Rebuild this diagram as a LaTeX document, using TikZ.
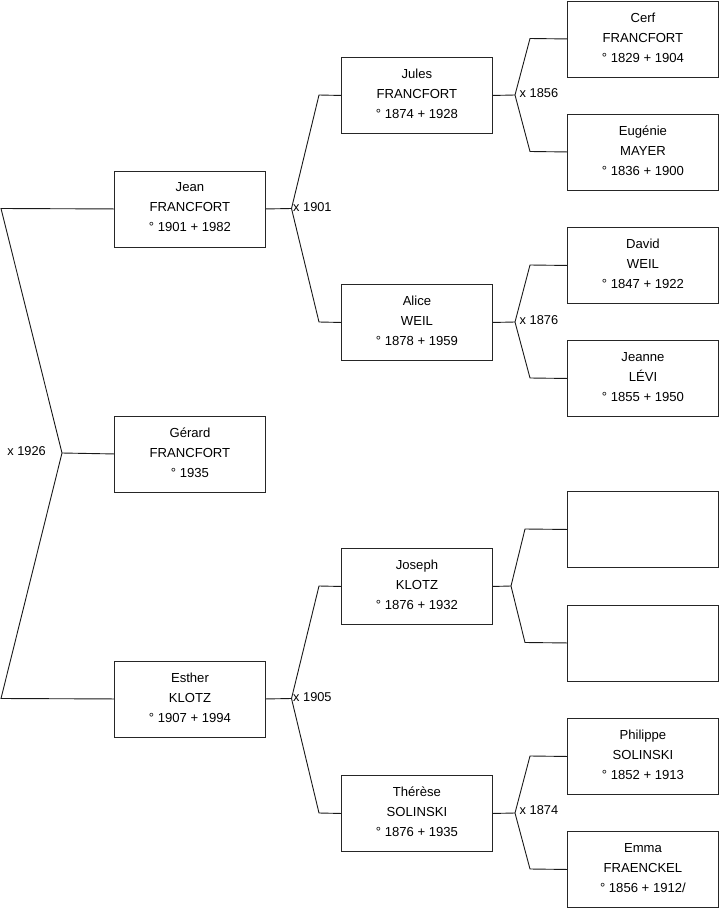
\documentclass[tikz,border=0pt]{standalone}
\usepackage{fontspec}
\setmainfont{Liberation Sans}
\begin{document}
\begin{tikzpicture}[x=1pt,y=-1pt,
  person/.style={draw=black!85, line width=0.9pt, fill=white, rectangle, anchor=north west,
    minimum width=151pt, minimum height=76pt, inner sep=0pt, align=center, text depth=3pt,
    font=\fontsize{13.1}{20}\selectfont},
  link/.style={draw=black!90, line width=0.9pt},
  mar/.style={font=\fontsize{12.8}{15}\selectfont, inner sep=0pt}]
\useasboundingbox (0,0) rectangle (719,908);
% generation 1
\node[person] (jean) at (114,170.5) {Jean\\FRANCFORT\\° 1901 + 1982};
\node[person] (gerard) at (114,415.5) {Gérard\\FRANCFORT\\° 1935};
\node[person] (esther) at (114,660.5) {Esther\\KLOTZ\\° 1907 + 1994};
% generation 2
\node[person] (jules) at (341,57) {Jules\\FRANCFORT\\° 1874 + 1928};
\node[person] (alice) at (341,284) {Alice\\WEIL\\° 1878 + 1959};
\node[person] (joseph) at (341,548) {Joseph\\KLOTZ\\° 1876 + 1932};
\node[person] (therese) at (341,775) {Thérèse\\SOLINSKI\\° 1876 + 1935};
% generation 3
\node[person] (cerf) at (567,0.5) {Cerf\\FRANCFORT\\° 1829 + 1904};
\node[person] (eugenie) at (567,113.5) {Eugénie\\MAYER\\° 1836 + 1900};
\node[person] (david) at (567,227) {David\\WEIL\\° 1847 + 1922};
\node[person] (jeanne) at (567,340) {Jeanne\\LÉVI\\° 1855 + 1950};
\node[person] (empa) at (567,491) {};
\node[person] (empb) at (567,604.5) {};
\node[person] (philippe) at (567,718) {Philippe\\SOLINSKI\\° 1852 + 1913};
\node[person] (emma) at (567,831) {Emma\\FRAENCKEL\\° 1856 + 1912/};
% junction coordinates
\coordinate (ta) at (1,208.5);
\coordinate (c1) at (62,453);
\coordinate (ba) at (1,698.5);
\coordinate (c2) at (291.5,208.5);
\coordinate (u2) at (319,95);
\coordinate (l2) at (319,322);
\coordinate (c3) at (291.5,698.5);
\coordinate (u3) at (319,586);
\coordinate (l3) at (319,813);
\coordinate (c4) at (515,95);
\coordinate (u4) at (530,38.5);
\coordinate (l4) at (530,151.5);
\coordinate (c5) at (515,322);
\coordinate (u5) at (530,265);
\coordinate (l5) at (530,378);
\coordinate (c6) at (511,586);
\coordinate (u6) at (525,529);
\coordinate (l6) at (525,642.5);
\coordinate (c7) at (515,813);
\coordinate (u7) at (530,756);
\coordinate (l7) at (530,869);
% connectors
\draw[link] (jean.west) -- (ta) -- (c1) -- (ba) -- (esther.west);
\draw[link] (c1) -- (gerard.west);
\draw[link] (jean.east) -- (c2);
\draw[link] (jules.west) -- (u2) -- (c2) -- (l2) -- (alice.west);
\draw[link] (esther.east) -- (c3);
\draw[link] (joseph.west) -- (u3) -- (c3) -- (l3) -- (therese.west);
\draw[link] (jules.east) -- (c4);
\draw[link] (cerf.west) -- (u4) -- (c4) -- (l4) -- (eugenie.west);
\draw[link] (alice.east) -- (c5);
\draw[link] (david.west) -- (u5) -- (c5) -- (l5) -- (jeanne.west);
\draw[link] (joseph.east) -- (c6);
\draw[link] (empa.west) -- (u6) -- (c6) -- (l6) -- (empb.west);
\draw[link] (therese.east) -- (c7);
\draw[link] (philippe.west) -- (u7) -- (c7) -- (l7) -- (emma.west);
% marriage labels
\node[mar, anchor=east] (m1) at (46,451) {x 1926};
\node[mar, anchor=west] (m2) at (293,207.5) {x 1901};
\node[mar, anchor=west] (m3) at (293,697.5) {x 1905};
\node[mar, anchor=west] (m4) at (519.5,93) {x 1856};
\node[mar, anchor=west] (m5) at (519.5,320) {x 1876};
\node[mar, anchor=west] (m6) at (519.5,810) {x 1874};
\end{tikzpicture}
\end{document}
